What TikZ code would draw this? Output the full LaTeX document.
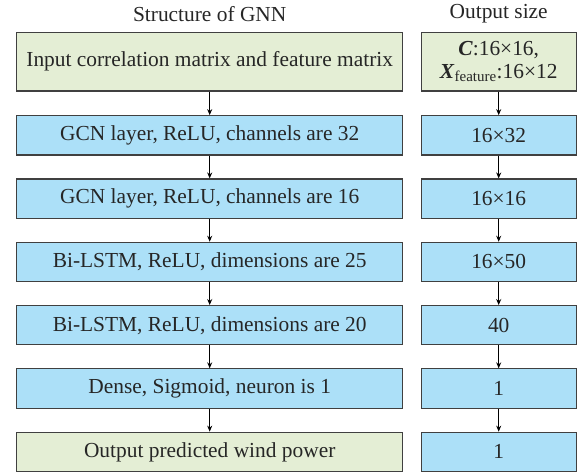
\documentclass[tikz,border=0pt]{standalone}
\usepackage{fontspec}
\setmainfont{Liberation Serif}
\usetikzlibrary{arrows.meta}
\definecolor{boxblue}{RGB}{172,224,248}
\definecolor{boxgreen}{RGB}{228,238,213}
\definecolor{boxline}{RGB}{64,64,64}
\begin{document}
\begin{tikzpicture}[x=1pt,y=-1pt,
  base/.style={draw=boxline,line width=1.1pt,inner sep=0pt,align=center,
    font=\fontsize{21.4}{24}\selectfont,text=black!85},
  lbox/.style={base,minimum width=386pt,minimum height=39.3pt},
  rbox/.style={base,minimum width=154.7pt,minimum height=39.3pt},
  blue/.style={fill=boxblue},
  green/.style={fill=boxgreen},
  head/.style={font=\fontsize{21.4}{24}\selectfont,text=black!85},
  arr/.style={line width=1.2pt,-{Stealth[length=6pt,width=5pt]}}]
\useasboundingbox (0,0) rectangle (582,475);
\node[head] (h1) at (209.7,14) {Structure of GNN};
\node[head] (h2) at (498.7,14) {Output size};
% row 0
\node[lbox,green,minimum height=58.7pt] (l0) at (209.7,61.65) {Input correlation matrix and feature matrix};
\node[rbox,green,minimum height=58.7pt] (r0) at (498.7,61.65) {\textbf{\textit{C}}:16×16,\\[-1pt]\textbf{\textit{X}}\textsubscript{feature}:16×12};
% rows
\node[lbox,blue] (l1) at (209.7,135.35) {GCN layer, ReLU, channels are 32};
\node[rbox,blue] (r1) at (498.7,135.35) {16×32};
\node[lbox,blue] (l2) at (209.7,198.65) {GCN layer, ReLU, channels are 16};
\node[rbox,blue] (r2) at (498.7,198.65) {16×16};
\node[lbox,blue] (l3) at (209.7,261.95) {Bi-LSTM, ReLU, dimensions are 25};
\node[rbox,blue] (r3) at (498.7,261.95) {16×50};
\node[lbox,blue] (l4) at (209.7,325.25) {Bi-LSTM, ReLU, dimensions are 20};
\node[rbox,blue] (r4) at (498.7,325.25) {40};
\node[lbox,blue] (l5) at (209.7,388.55) {Dense, Sigmoid, neuron is 1};
\node[rbox,blue] (r5) at (498.7,388.55) {1};
\node[lbox,green] (l6) at (209.7,451.85) {Output predicted wind power};
\node[rbox,blue] (r6) at (498.7,451.85) {1};
\foreach \a/\b in {0/1,1/2,2/3,3/4,4/5,5/6}{
  \draw[arr] (l\a.south) -- (l\b.north);
  \draw[arr] (r\a.south) -- (r\b.north);
}
\end{tikzpicture}
\end{document}
